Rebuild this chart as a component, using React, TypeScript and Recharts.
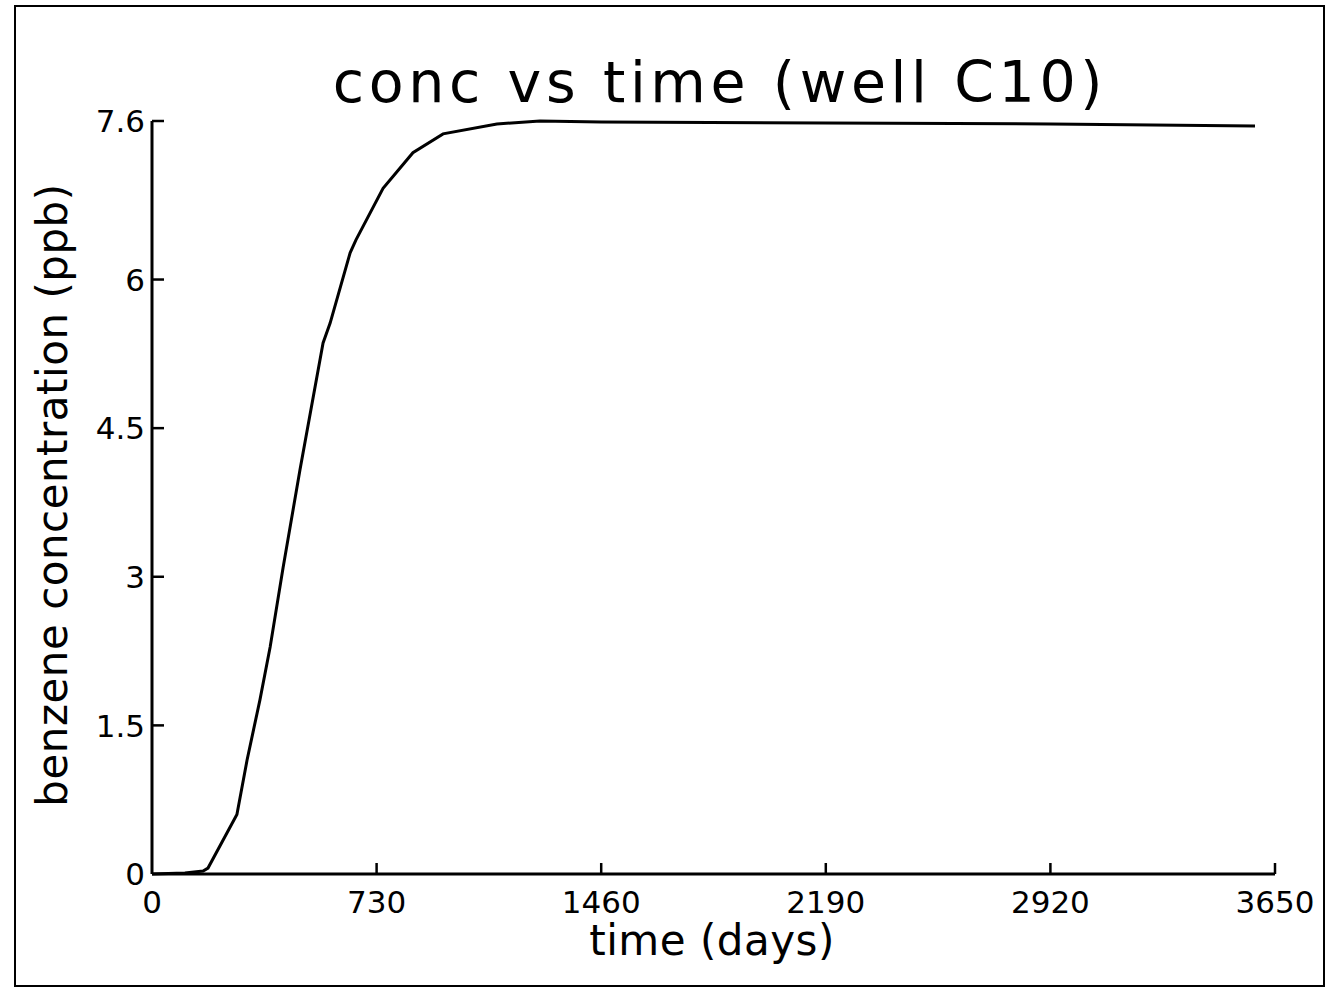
import { LineChart, Line, XAxis, YAxis } from "recharts";

const days = [0, 107, 166, 182, 276, 309, 351, 384, 426, 481, 556, 579, 644, 663, 751, 848, 946, 1121, 1261, 1460, 2190, 2920, 3585];
const conc = [0, 0.01, 0.03, 0.06, 0.6, 1.15, 1.76, 2.29, 3.09, 4.08, 5.36, 5.56, 6.27, 6.4, 6.92, 7.28, 7.47, 7.57, 7.6, 7.59, 7.58, 7.57, 7.55];
const xTicks = [0, 730, 1460, 2190, 2920, 3650];
const yTicks = [0, 1.5, 3, 4.5, 6, 7.6];

const data = days.map((d, i) => ({ day: d, conc: conc[i] }));

const FONT = "'DejaVu Sans', sans-serif";

function XTick(props: any) {
  const { x, y, payload } = props;
  return (
    <g>
      {payload.value !== 0 && <line x1={x} y1={y} x2={x} y2={y - 11} stroke="#000" strokeWidth={2.5} />}
      <text x={x} y={y + 39} textAnchor="middle" fontFamily={FONT} fontSize={31} fill="#000">
        {payload.value}
      </text>
    </g>
  );
}

function YTick(props: any) {
  const { x, y, payload } = props;
  return (
    <g>
      {payload.value !== 0 && <line x1={x} y1={y} x2={x + 12} y2={y} stroke="#000" strokeWidth={2.5} />}
      <text x={x - 7} y={y} dy="0.36em" textAnchor="end" fontFamily={FONT} fontSize={31} fill="#000">
        {payload.value}
      </text>
    </g>
  );
}

export default function App() {
  return (
    <div style={{ position: "absolute", left: 0, top: 0, width: 1332, height: 992, background: "#fff" }}>
      <div
        style={{
          position: "absolute",
          left: 14,
          top: 5,
          width: 1311,
          height: 982,
          border: "2px solid #000",
          boxSizing: "border-box",
        }}
      />
      <LineChart
        width={1332}
        height={992}
        data={data}
        margin={{ top: 121, right: 57, bottom: 88, left: 92 }}
      >
        <XAxis
          dataKey="day"
          type="number"
          domain={[0, 3650]}
          ticks={xTicks}
          height={30}
          tickSize={0}
          tickMargin={0}
          tickLine={false}
          axisLine={{ stroke: "#000", strokeWidth: 3 }}
          tick={<XTick />}
          interval={0}
        />
        <YAxis
          type="number"
          domain={[0, 7.6]}
          ticks={yTicks}
          width={60}
          tickSize={0}
          tickMargin={0}
          tickLine={false}
          axisLine={{ stroke: "#000", strokeWidth: 3 }}
          tick={<YTick />}
          interval={0}
        />
        <Line
          type="linear"
          dataKey="conc"
          stroke="#000"
          strokeWidth={3}
          dot={false}
          isAnimationActive={false}
        />
      </LineChart>
      <div
        style={{
          position: "absolute",
          left: 0,
          width: 1440,
          top: 47,
          textAlign: "center",
          fontFamily: FONT,
          fontSize: 57,
          letterSpacing: 4.6,
          lineHeight: "70px",
          whiteSpace: "nowrap",
        }}
      >
        conc vs time (well C10)
      </div>
      <div
        style={{
          position: "absolute",
          left: 0,
          width: 1424,
          top: 920,
          textAlign: "center",
          fontFamily: FONT,
          fontSize: 42,
          letterSpacing: 0.5,
          lineHeight: "42px",
          whiteSpace: "nowrap",
        }}
      >
        time (days)
      </div>
      <div
        style={{
          position: "absolute",
          left: 53,
          top: 495,
          width: 0,
          height: 0,
        }}
      >
        <div
          style={{
            position: "absolute",
            left: 0,
            top: 0,
            transform: "translate(-50%, -50%) rotate(-90deg)",
            fontFamily: FONT,
            fontSize: 42,
            letterSpacing: 0.5,
            lineHeight: "52px",
            whiteSpace: "nowrap",
          }}
        >
          benzene concentration (ppb)
        </div>
      </div>
    </div>
  );
}
